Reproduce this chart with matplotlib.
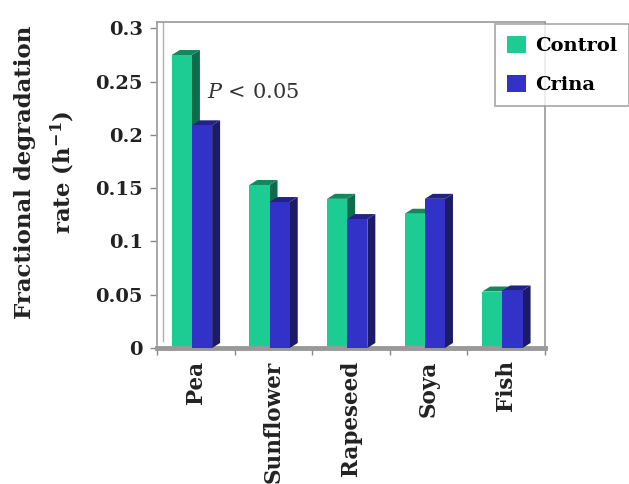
import matplotlib.pyplot as plt
from matplotlib.patches import Polygon
import numpy as np

plt.rcParams['font.family'] = 'DejaVu Serif'
plt.rcParams['mathtext.fontset'] = 'dejavuserif'

categories = ['Pea', 'Sunflower', 'Rapeseed', 'Soya', 'Fish']
control = [0.275, 0.153, 0.140, 0.126, 0.053]
crina = [0.209, 0.137, 0.121, 0.140, 0.054]
series_names = ['Control', 'Crina']

front_cols = ['#1ccc92', '#3232c8']
side_cols = ['#0e6b4c', '#1b1b66']
top_cols = ['#13875d', '#232386']

fig = plt.figure(figsize=(6.29, 4.84), dpi=100)
ax = fig.add_axes([0.2496, 0.281, 0.617, 0.6736])

w = 0.26      # bar width
dx = 0.103    # 3d depth, x
dy = 0.0047   # 3d depth, y
x = np.arange(len(categories))

handles = []
for k, vals in enumerate([control, crina]):
    left = x - 0.31 + k * w
    b = ax.bar(left, vals, width=w, align='edge', color=front_cols[k],
               edgecolor='none', zorder=2 + k * 2, label=series_names[k])
    handles.append(b)
    for xl, h in zip(left, vals):
        side = Polygon([(xl + w, 0), (xl + w + dx, dy), (xl + w + dx, h + dy), (xl + w, h)],
                       closed=True, facecolor=side_cols[k], edgecolor='none', zorder=1.9 + k * 2)
        top = Polygon([(xl, h), (xl + dx, h + dy), (xl + w + dx, h + dy), (xl + w, h)],
                      closed=True, facecolor=top_cols[k], edgecolor='none', zorder=1.9 + k * 2)
        ax.add_patch(side)
        ax.add_patch(top)

ax.set_xlim(-0.5, len(categories) - 0.5)
ax.set_ylim(0, 0.306)
ax.set_yticks([0, 0.05, 0.1, 0.15, 0.2, 0.25, 0.3])
ax.set_yticklabels(['0', '0.05', '0.1', '0.15', '0.2', '0.25', '0.3'],
                   fontsize=14, fontweight='bold', color='#222222')
ax.set_xticks(x)
ax.set_xticklabels(categories, rotation=90, fontsize=15.5, fontweight='bold',
                   color='#222222', va='top')
ax.set_xticks(np.arange(-0.5, len(categories)), minor=True)
ax.tick_params(axis='x', which='major', length=0, pad=9)
ax.tick_params(axis='x', which='minor', length=5, color='#888888', width=1)
ax.tick_params(axis='y', length=5, color='#888888', width=1, pad=5)

for s in ['left', 'top', 'right']:
    ax.spines[s].set_color('#a0a0a0')
    ax.spines[s].set_linewidth(1.3)
ax.spines['bottom'].set_color('#999999')
ax.spines['bottom'].set_linewidth(3.5)
# back wall edge
ax.axvline(-0.5 + dx * 0.7, ymin=0.02, ymax=1, color='#b0b0b0', lw=1, zorder=1)

ax.text(0.144, 0.24, r'$P$ < 0.05', fontsize=15, color='#333333', va='center', ha='left')

fig.text(0.072, 0.645, 'Fractional degradation\nrate (h$^{\\mathbf{-1}}$)', rotation=90,
         ha='center', va='center', fontsize=16.5, fontweight='bold', linespacing=1.6,
         color='#222222')

leg = fig.legend(handles=handles, labels=series_names, loc='upper left',
                 bbox_to_anchor=(0.772, 0.97), frameon=True,
                 fancybox=False, edgecolor='#999999', handlelength=1.0,
                 handleheight=1.0, handletextpad=0.45, labelspacing=1.0,
                 borderpad=0.6, prop={'weight': 'bold', 'size': 14})
leg.get_frame().set_linewidth(1.3)

fig.savefig('out.png', dpi=100)
